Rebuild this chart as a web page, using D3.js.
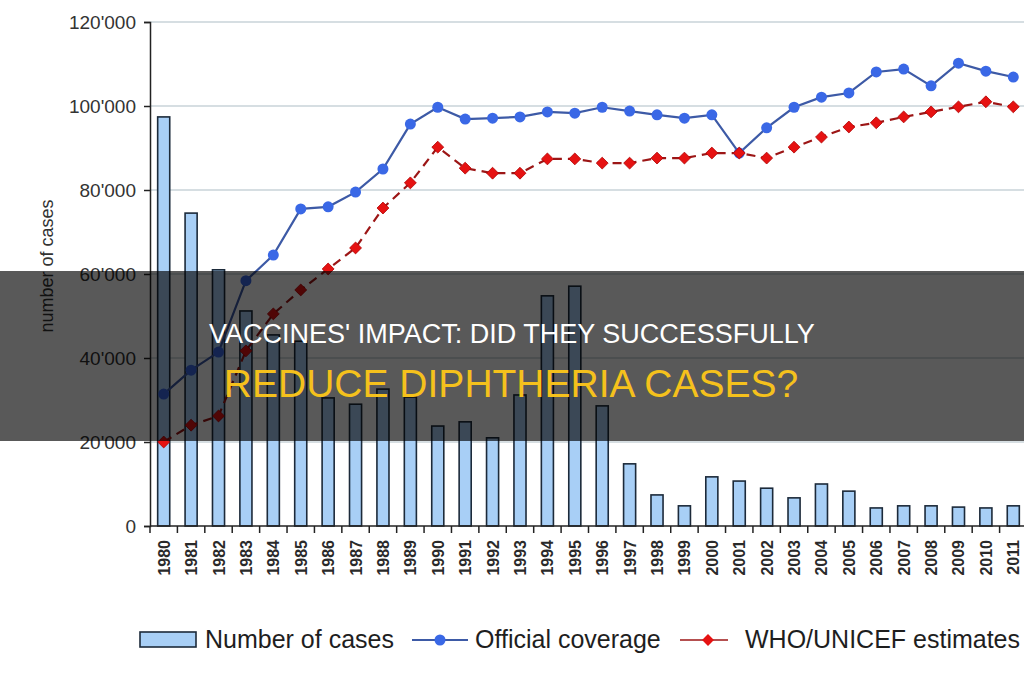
<!DOCTYPE html>
<html>
<head>
<meta charset="utf-8">
<script src="https://cdn.jsdelivr.net/npm/d3@7"></script>
<style>
  html, body { margin: 0; padding: 0; background: #fff; }
  svg { display: block; font-family: "Liberation Sans", Arial, sans-serif; }
</style>
</head>
<body>
<svg id="chart" width="1024" height="680"></svg>
<script>
// ── Data ────────────────────────────────────────────────────────────────────
const years = d3.range(1980, 2012).map(String);

const cases = [
  97400, 74500, 61000, 51200, 45500, 44000, 30500, 29000, 32600, 30700,
  23800, 24800, 21000, 31200, 54800, 57100, 28600, 14800, 7400, 4800,
  11700, 10700, 9000, 6700, 10000, 8300, 4300, 4800, 4800, 4500,
  4300, 4800
];

const official = [
  31400, 37100, 41400, 58400, 64500, 75500, 76000, 79500, 85000, 95700,
  99700, 96900, 97100, 97400, 98600, 98300, 99700, 98800, 97900, 97100,
  97900, 88800, 94800, 99700, 102100, 103100, 108100, 108800, 104800, 110200,
  108300, 106900
];

const whoUnicef = [
  20000, 24000, 26200, 41700, 50500, 56200, 61200, 66200, 75700, 81700,
  90200, 85200, 84000, 84000, 87400, 87400, 86400, 86400, 87600, 87600,
  88800, 88800, 87600, 90200, 92600, 95000, 96000, 97400, 98600, 99800,
  101000, 99800
];

const yTicks = [0, 20000, 40000, 60000, 80000, 100000, 120000];
const legendLabels = ['Number of cases', 'Official coverage', 'WHO/UNICEF estimates'];
const titleLines = ["VACCINES' IMPACT: DID THEY SUCCESSFULLY", 'REDUCE DIPHTHERIA CASES?'];

// ── Styles ──────────────────────────────────────────────────────────────────
const BAR_FILL = '#a8cff6';
const BAR_STROKE = '#1c2a3a';
const BLUE_LINE = '#3d5aa6';
const BLUE_DOT = '#3a68e6';
const RED_LINE = '#9c1616';
const RED_DOT = '#e61212';
const GRID = '#c9d3d8';
const TEXT = '#333';

const svg = d3.select('#chart');

const x = d3.scaleBand().domain(years).range([150, 1027])
  .paddingInner(0.56).paddingOuter(0.28);
const y = d3.scaleLinear().domain([0, 120000]).range([526, 22]);
const cx = d => x(d) + x.bandwidth() / 2;
const step = x.step();

const fmt = v => v === 0 ? '0' : d3.format(',')(v).replace(/,/g, "'");

// ── Grid ────────────────────────────────────────────────────────────────────
svg.append('g').selectAll('line')
  .data(yTicks.filter(t => t > 0))
  .join('line')
  .attr('x1', 150).attr('x2', 1024)
  .attr('y1', d => y(d)).attr('y2', d => y(d))
  .attr('stroke', GRID).attr('stroke-width', 1.5);

// ── Bars ────────────────────────────────────────────────────────────────────
svg.append('g').selectAll('rect')
  .data(years)
  .join('rect')
  .attr('x', d => x(d))
  .attr('y', (d, i) => y(cases[i]))
  .attr('width', x.bandwidth())
  .attr('height', (d, i) => y(0) - y(cases[i]))
  .attr('fill', BAR_FILL)
  .attr('stroke', BAR_STROKE)
  .attr('stroke-width', 1.6);

// ── Y axis ──────────────────────────────────────────────────────────────────
const yAxis = svg.append('g')
  .attr('transform', 'translate(150,0)')
  .call(d3.axisLeft(y).tickValues(yTicks).tickFormat(fmt).tickSize(6).tickPadding(8));
yAxis.select('.domain').attr('stroke', '#222').attr('stroke-width', 1.5);
yAxis.selectAll('.tick line').attr('stroke', '#222').attr('stroke-width', 1.5);
yAxis.selectAll('.tick text')
  .attr('fill', TEXT).attr('font-size', 19)
  .attr('font-family', '"Liberation Sans", Arial, sans-serif');

svg.append('text')
  .attr('transform', 'translate(53,266) rotate(-90)')
  .attr('text-anchor', 'middle')
  .attr('font-size', 18)
  .attr('fill', TEXT)
  .text('number of cases');

// ── X axis ──────────────────────────────────────────────────────────────────
svg.append('line')
  .attr('x1', 150).attr('x2', 1024)
  .attr('y1', y(0)).attr('y2', y(0))
  .attr('stroke', '#222').attr('stroke-width', 1.5);

svg.append('g').selectAll('line')
  .data(years)
  .join('line')
  .attr('x1', d => cx(d) - step / 2).attr('x2', d => cx(d) - step / 2)
  .attr('y1', y(0)).attr('y2', y(0) + 7)
  .attr('stroke', '#222').attr('stroke-width', 1.5);

svg.append('g').selectAll('text')
  .data(years)
  .join('text')
  .attr('transform', d => `translate(${cx(d) + 6},540) rotate(-90)`)
  .attr('text-anchor', 'end')
  .attr('font-size', 16)
  .attr('font-weight', 'bold')
  .attr('fill', '#2a2a2a')
  .text(d => d);

// ── Lines ───────────────────────────────────────────────────────────────────
const line = vals => d3.line().x(d => cx(d)).y((d, i) => y(vals[i]))(years);

svg.append('path')
  .attr('d', line(official))
  .attr('fill', 'none').attr('stroke', BLUE_LINE).attr('stroke-width', 2.2);

svg.append('path')
  .attr('d', line(whoUnicef))
  .attr('fill', 'none').attr('stroke', RED_LINE).attr('stroke-width', 2.2)
  .attr('stroke-dasharray', '9,6');

svg.append('g').selectAll('circle')
  .data(years)
  .join('circle')
  .attr('cx', d => cx(d))
  .attr('cy', (d, i) => y(official[i]))
  .attr('r', 5.5)
  .attr('fill', BLUE_DOT);

const diamond = d3.symbol().type(d3.symbolDiamond2).size(90);
svg.append('g').selectAll('path')
  .data(years)
  .join('path')
  .attr('d', diamond)
  .attr('transform', (d, i) => `translate(${cx(d)},${y(whoUnicef[i])})`)
  .attr('fill', RED_DOT)
  .attr('stroke', '#b00000').attr('stroke-width', 0.8);

// ── Legend ──────────────────────────────────────────────────────────────────
const lg = svg.append('g').attr('font-size', 25).attr('fill', '#1e1e1e');

lg.append('rect')
  .attr('x', 140).attr('y', 632).attr('width', 56).attr('height', 15)
  .attr('fill', BAR_FILL).attr('stroke', BAR_STROKE).attr('stroke-width', 1.6);
lg.append('text').attr('x', 205).attr('y', 648).text(legendLabels[0]);

lg.append('line')
  .attr('x1', 412).attr('x2', 468).attr('y1', 640).attr('y2', 640)
  .attr('stroke', BLUE_LINE).attr('stroke-width', 2.2);
lg.append('circle').attr('cx', 440).attr('cy', 640).attr('r', 5.5).attr('fill', BLUE_DOT);
lg.append('text').attr('x', 475).attr('y', 648).text(legendLabels[1]);

lg.append('line')
  .attr('x1', 680).attr('x2', 728).attr('y1', 640).attr('y2', 640)
  .attr('stroke', RED_LINE).attr('stroke-width', 1.6);
lg.append('path').attr('d', diamond)
  .attr('transform', 'translate(708,640)').attr('fill', RED_DOT);
lg.append('text').attr('x', 745).attr('y', 648).text(legendLabels[2]);

// ── Overlay band with title ─────────────────────────────────────────────────
svg.append('rect')
  .attr('x', 0).attr('y', 271).attr('width', 1024).attr('height', 170)
  .attr('fill', 'rgba(0,0,0,0.65)');

svg.append('text')
  .attr('x', 512).attr('y', 343)
  .attr('text-anchor', 'middle')
  .attr('font-size', 27)
  .attr('fill', '#ffffff')
  .text(titleLines[0]);

svg.append('text')
  .attr('x', 511).attr('y', 397)
  .attr('text-anchor', 'middle')
  .attr('font-size', 39)
  .attr('fill', '#f5c11c')
  .text(titleLines[1]);
</script>
</body>
</html>
